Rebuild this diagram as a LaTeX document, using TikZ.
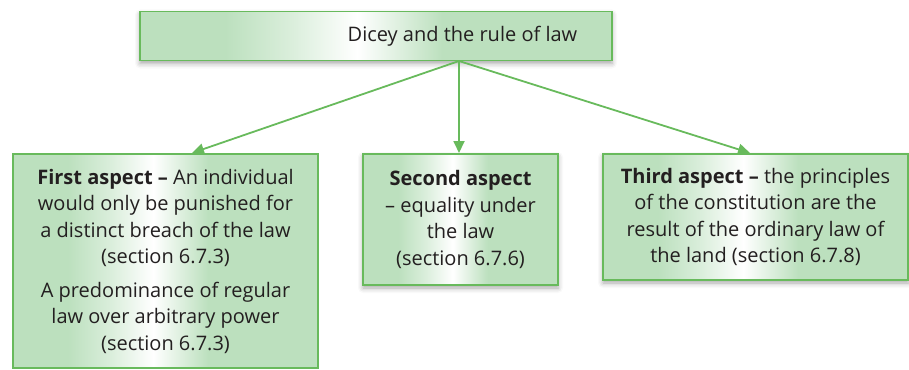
\documentclass[tikz,border=0pt]{standalone}
\usepackage{fontspec}
\setmainfont{Open Sans}
\usetikzlibrary{shadows.blur,arrows.meta}
\definecolor{gfill}{RGB}{188,224,190}
\definecolor{gline}{RGB}{104,186,92}
\definecolor{gtext}{RGB}{35,31,32}
\pgfdeclarehorizontalshading{boxshade}{100bp}{color(0bp)=(gfill); color(25bp)=(gfill); color(34bp)=(gfill); color(41bp)=(gfill!55!white); color(48bp)=(white); color(57bp)=(gfill); color(75bp)=(gfill); color(100bp)=(gfill)}
\tikzset{
  plainbox/.style={draw=gline, line width=1.5pt, shading=boxshade, inner sep=0pt,
    text=gtext, align=center, font=\fontsize{20}{26.5}\selectfont},
  box/.style={plainbox,
    blur shadow={shadow xshift=0pt, shadow yshift=-3pt, shadow blur radius=5pt, shadow opacity=35}},
  conn/.style={draw=gline, line width=1.8pt, -{Triangle[length=12pt,width=11pt]}},
}
\begin{document}
\begin{tikzpicture}[x=1pt,y=-1pt]
\node[box, minimum width=472pt, minimum height=49pt] (top) at (376,36)
  {\hspace*{173pt}Dicey and the rule of law};
\node[plainbox, minimum width=305pt, minimum height=214pt] (first) at (165.5,261)
  {\textbf{First aspect –} An individual\\ would only be punished for\\ a distinct breach of the law\\ (section 6.7.3)\\[7pt]
   A predominance of regular\\ law over arbitrary power\\ (section 6.7.3)};
\node[box, minimum width=195pt, minimum height=131pt] (second) at (460.5,219.5)
  {\textbf{Second aspect}\\ – equality under\\ the law\\ (section 6.7.6)};
\node[box, minimum width=305pt, minimum height=126pt] (third) at (755.5,217)
  {\textbf{Third aspect –} the principles\\ of the constitution are the\\ result of the ordinary law of\\ the land (section 6.7.8)};
\coordinate (src) at (459,61);
\coordinate (t1) at (192,153);
\coordinate (t2) at (459,153);
\coordinate (t3) at (750,153);
\draw[conn] (src) -- (t1);
\draw[conn] (src) -- (t2);
\draw[conn] (src) -- (t3);
\pgfresetboundingbox
\useasboundingbox (0,0) rectangle (909,369);
\end{tikzpicture}
\end{document}
